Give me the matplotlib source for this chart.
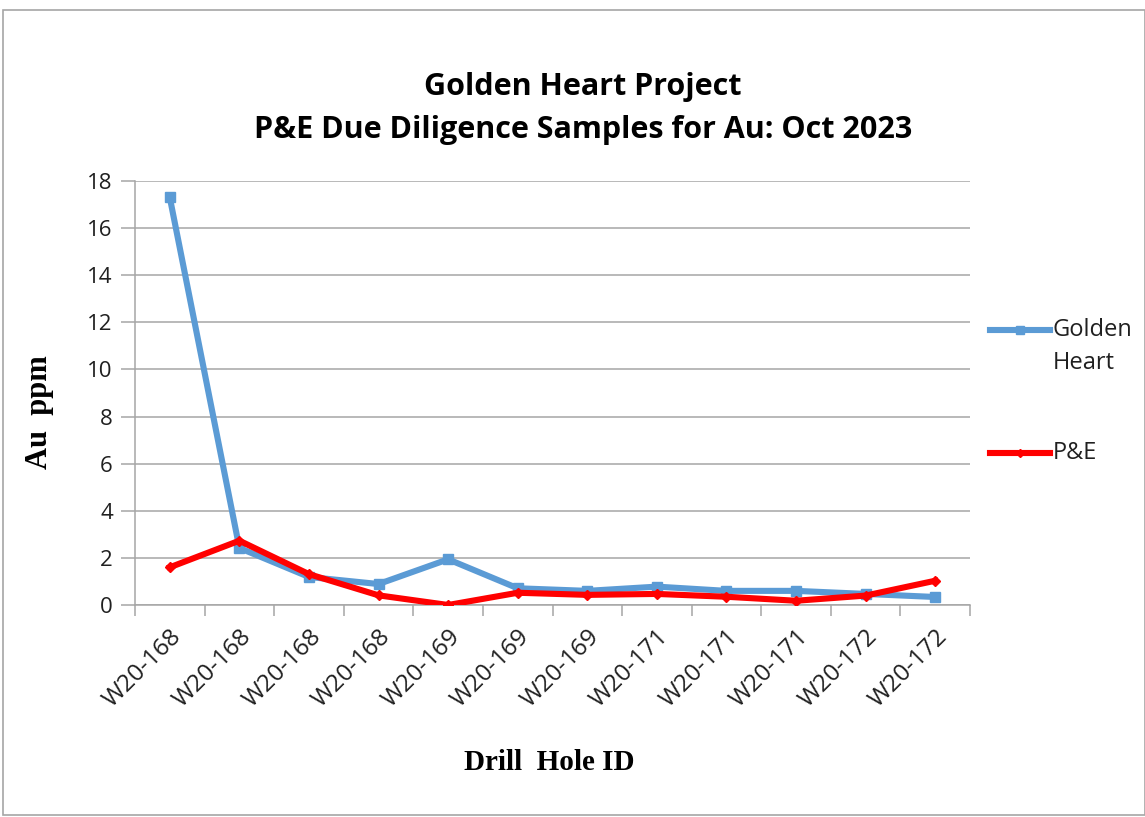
import matplotlib
matplotlib.use("Agg")
import matplotlib.pyplot as plt
from matplotlib.patches import Rectangle
from matplotlib.lines import Line2D
import numpy as np

categories = ["W20-168", "W20-168", "W20-168", "W20-168", "W20-169", "W20-169",
              "W20-169", "W20-171", "W20-171", "W20-171", "W20-172", "W20-172"]
golden_heart = [17.3, 2.42, 1.19, 0.89, 1.94, 0.71, 0.6, 0.78, 0.6, 0.6, 0.47, 0.34]
pe = [1.6, 2.73, 1.31, 0.41, 0.0, 0.52, 0.43, 0.47, 0.35, 0.18, 0.4, 1.03]
y_ticks = [0, 2, 4, 6, 8, 10, 12, 14, 16, 18]
series_names = ["Golden\nHeart", "P&E"]

W, H = 1145, 817
fig = plt.figure(figsize=(W / 100, H / 100), dpi=100)
fig.patch.set_facecolor("white")

# outer chart border
fig.add_artist(Rectangle((3 / W, 1 - 815 / H), (W - 3) / W, (815 - 10) / H,
                         transform=fig.transFigure, fill=False,
                         edgecolor="#a6a6a6", linewidth=1.2))

ax = fig.add_axes([135 / W, 1 - 605 / H, (970 - 135) / W, (605 - 181) / H])
x = np.arange(len(categories))
styles = [dict(color="#5b9bd5", marker="s", markersize=7),
          dict(color="#ff0000", marker="D", markersize=5)]
lines = []
for vals, st, z in zip([golden_heart, pe], styles, [3, 4]):
    ln, = ax.plot(x, vals, linewidth=4.4, zorder=z, **st)
    lines.append(ln)

ax.set_xlim(-0.5, len(categories) - 0.5)
ax.set_ylim(0, 18)
ax.set_yticks(y_ticks)
ax.set_yticklabels([str(v) for v in y_ticks], fontsize=16, fontfamily="Open Sans",
                   color="#202020")
ax.yaxis.grid(True, color="#a6a6a6", linewidth=1.1)
ax.set_axisbelow(True)

ax.set_xticks(x)
ax.set_xticklabels(categories, rotation=45, ha="right", rotation_mode="anchor",
                   fontsize=17.5, fontfamily="Open Sans", color="#202020")
ax.tick_params(axis="x", which="major", length=0, pad=14)
ax.set_xticks(np.arange(-0.5, len(categories) + 0.5, 1), minor=True)
ax.tick_params(axis="x", which="minor", length=8, color="#a6a6a6", width=1.1)
ax.tick_params(axis="y", length=10, color="#a6a6a6", width=1.1, pad=6)

for s in ["top", "right"]:
    ax.spines[s].set_visible(False)
for s in ["left", "bottom"]:
    ax.spines[s].set_color("#a6a6a6")
    ax.spines[s].set_linewidth(1.1)

fig.text(583 / W, 1 - 87 / H, "Golden Heart Project", ha="center", va="center",
         fontsize=22, fontweight="bold", fontfamily="Open Sans")
fig.text(583 / W, 1 - 130 / H, "P&E Due Diligence Samples for Au: Oct 2023",
         ha="center", va="center", fontsize=22, fontweight="bold", fontfamily="Open Sans")

fig.text(40 / W, 1 - 412 / H, "Au  ppm", rotation=90, ha="center", va="center",
         fontsize=22, fontweight="bold", fontfamily="Liberation Serif")
fig.text(549 / W, 1 - 762 / H, "Drill  Hole ID", ha="center", va="center",
         fontsize=21, fontweight="bold", fontfamily="Liberation Serif")

# legend (Excel style: handle aligned with the first text line)
legend_y = [330, 453]
for ln, name, yy in zip(lines, series_names, legend_y):
    yf = 1 - yy / H
    fig.add_artist(Line2D([990 / W, 1050 / W], [yf, yf], transform=fig.transFigure,
                          color=ln.get_color(), linewidth=4.4))
    fig.add_artist(Line2D([1020 / W], [yf], transform=fig.transFigure,
                          color=ln.get_color(), marker=ln.get_marker(),
                          markersize=ln.get_markersize() * 0.8, linestyle="none"))
    for k, part in enumerate(name.split("\n")):
        fig.text(1053 / W, 1 - (yy + 33 * k) / H, part, ha="left", va="center",
                 fontsize=17, fontfamily="Open Sans", color="#202020")

fig.savefig("out.png", dpi=100)
